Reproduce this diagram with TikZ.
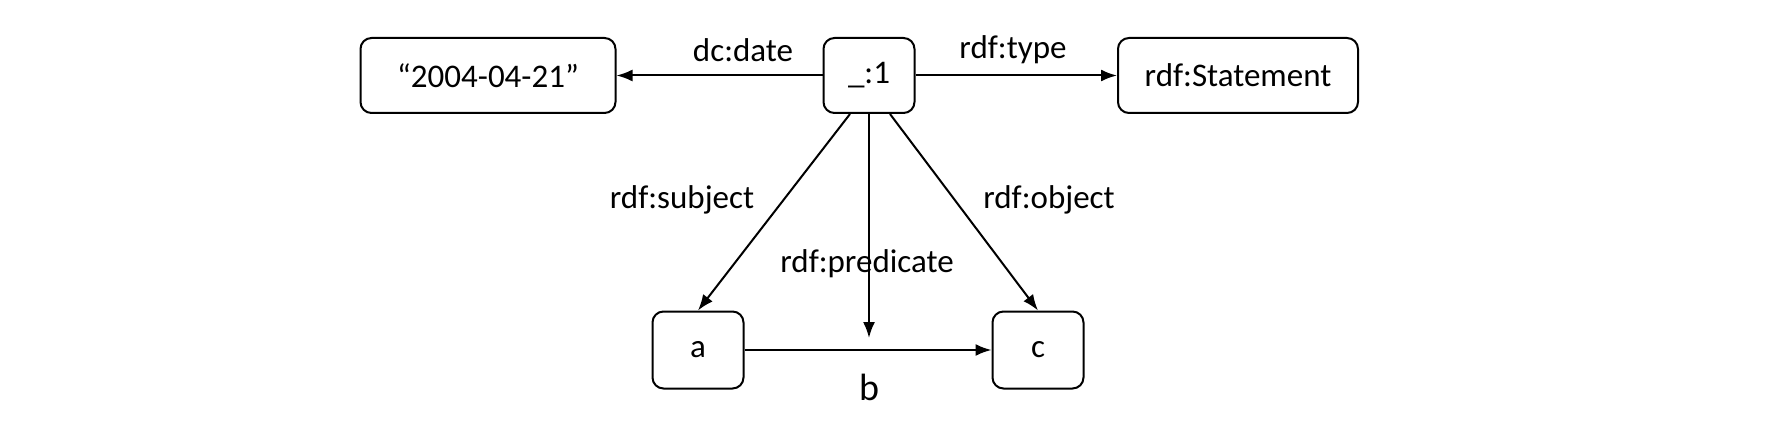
\documentclass[tikz,border=0pt]{standalone}
\usepackage{fontspec}
\setmainfont{Carlito}
\usetikzlibrary{arrows.meta}

\begin{document}
\begin{tikzpicture}[x=1pt,y=-1pt,
  font=\fontsize{33}{40}\selectfont,
  box/.style={draw,line width=2pt,rounded corners=11pt,minimum height=75pt,inner sep=0pt},
  arr/.style={line width=2pt,-{Latex[length=16pt,width=12pt]}}]
\useasboundingbox (0,0) rectangle (1789,433);

\node[box,minimum width=255pt] (date) at (488,75.5) {“2004-04-21”};
\node[box,minimum width=91pt] (one) at (869,75.5) {\_:1};
\node[box,minimum width=240pt] (stmt) at (1238,75.5) {rdf:Statement};
\node[box,minimum width=91pt,minimum height=77pt] (a) at (698,350) {a};
\node[box,minimum width=91pt,minimum height=77pt] (c) at (1038,350) {c};
\coordinate (pred) at (869,338);

\draw[arr] (one) -- (date);
\draw[arr] (one) -- (stmt);
\draw[arr] ([xshift=-19pt]one.south) -- (a.north);
\draw[arr] ([xshift=21pt]one.south) -- (c.north);
\draw[arr] (one.south) -- (pred);
\draw[arr] (a) -- (c);

\node[font=\fontsize{38}{44}\selectfont,anchor=base] (b) at (869,400) {b};
\node (ldate) at (743,50) {dc:date};
\node (ltype) at (1013,50) {rdf:type};
\node (lsubj) at (682,200) {rdf:subject};
\node (lpred) at (867,264) {rdf:predicate};
\node (lobj) at (1049,200) {rdf:object};
\end{tikzpicture}
\end{document}
